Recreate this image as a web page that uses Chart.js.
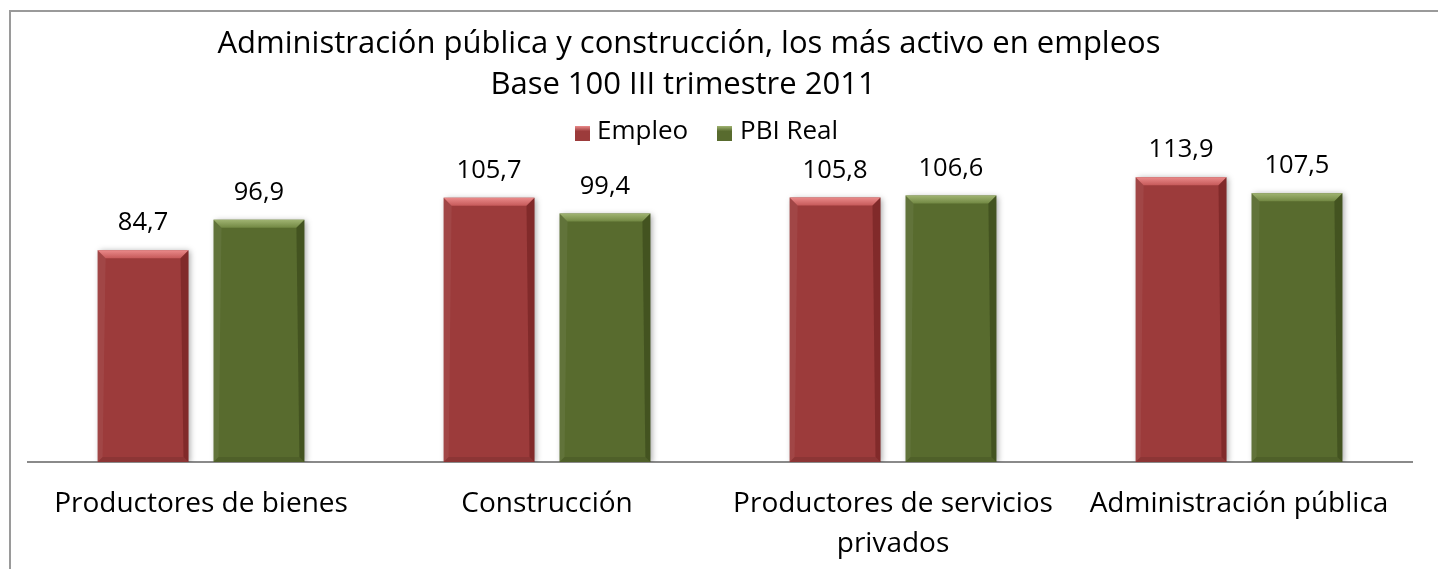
<!DOCTYPE html>
<html>
<head>
<meta charset="utf-8">
<script src="https://cdn.jsdelivr.net/npm/chart.js@4.4.1/dist/chart.umd.min.js"></script>
<style>
  html, body { margin: 0; padding: 0; background: #ffffff; overflow: hidden; }
  #c { display: block; }
</style>
</head>
<body>
<canvas id="c" width="1438" height="569"></canvas>
<script>
// ---- data ----
const categories = ['Productores de bienes', 'Construcción', ['Productores de servicios', 'privados'], 'Administración pública'];
const seriesNames = ['Empleo', 'PBI Real'];
const empleo = [84.7, 105.7, 105.8, 113.9];
const pbiReal = [96.9, 99.4, 106.6, 107.5];
const titleLines = ['Administración pública y construcción, los más activo en empleos', 'Base 100 III trimestre 2011'];

const FONT = '"Open Sans", "DejaVu Sans", sans-serif';
const palette = [
  { base: '#9c3b3b', light1: '#ea8a8a', light2: '#c65a5a', dark: 'rgba(60,0,0,0.28)' },
  { base: '#586b2e', light1: '#a0b472', light2: '#728843', dark: 'rgba(20,30,0,0.30)' }
];

function fmt(v) { return v.toFixed(1).replace('.', ','); }

const framePlugin = {
  id: 'frame',
  beforeDraw(chart) {
    const ctx = chart.ctx;
    ctx.save();
    ctx.fillStyle = '#ffffff';
    ctx.fillRect(0, 0, chart.width, chart.height);
    ctx.strokeStyle = '#9a9a9a';
    ctx.lineWidth = 2;
    ctx.beginPath();
    ctx.moveTo(10, chart.height + 5);
    ctx.lineTo(10, 11);
    ctx.lineTo(chart.width + 5, 11);
    ctx.stroke();
    ctx.restore();
  }
};

const shadowPlugin = {
  id: 'barShadow',
  beforeDatasetDraw(chart) {
    const ctx = chart.ctx;
    ctx.save();
    ctx.shadowColor = 'rgba(0,0,0,0.35)';
    ctx.shadowBlur = 6;
    ctx.shadowOffsetX = 2;
    ctx.shadowOffsetY = 1;
  },
  afterDatasetDraw(chart) { chart.ctx.restore(); }
};

const bevelPlugin = {
  id: 'bevel',
  afterDatasetsDraw(chart) {
    const ctx = chart.ctx;
    chart.data.datasets.forEach((ds, di) => {
      const meta = chart.getDatasetMeta(di);
      const p = palette[di];
      meta.data.forEach((bar, i) => {
        const w = bar.width;
        const L = bar.x - w / 2, R = bar.x + w / 2, T = bar.y, B = bar.base;
        const b = 8, s = 5;
        ctx.save();
        const g = ctx.createLinearGradient(0, T, 0, T + b);
        g.addColorStop(0, p.light1);
        g.addColorStop(1, p.light2);
        ctx.fillStyle = g;
        ctx.beginPath();
        ctx.moveTo(L, T); ctx.lineTo(R, T); ctx.lineTo(R - b, T + b); ctx.lineTo(L + b, T + b); ctx.closePath();
        ctx.fill();
        ctx.fillStyle = 'rgba(255,255,255,0.06)';
        ctx.beginPath();
        ctx.moveTo(L, T); ctx.lineTo(L + b, T + b); ctx.lineTo(L + s, B - s); ctx.lineTo(L, B); ctx.closePath();
        ctx.fill();
        ctx.fillStyle = p.dark;
        ctx.beginPath();
        ctx.moveTo(R, T); ctx.lineTo(R - b, T + b); ctx.lineTo(R - s, B - s); ctx.lineTo(R, B); ctx.closePath();
        ctx.fill();
        ctx.fillStyle = 'rgba(0,0,0,0.10)';
        ctx.beginPath();
        ctx.moveTo(L, B); ctx.lineTo(L + s, B - s); ctx.lineTo(R - s, B - s); ctx.lineTo(R, B); ctx.closePath();
        ctx.fill();
        ctx.restore();
        ctx.save();
        ctx.fillStyle = '#000';
        ctx.font = '25.5px ' + FONT;
        ctx.textAlign = 'center';
        ctx.textBaseline = 'alphabetic';
        ctx.fillText(fmt(ds.data[i]), bar.x, T - 20);
        ctx.restore();
      });
    });
  }
};

const headerPlugin = {
  id: 'header',
  afterDraw(chart) {
    const ctx = chart.ctx;
    ctx.save();
    ctx.fillStyle = '#000';
    ctx.textBaseline = 'alphabetic';
    ctx.textAlign = 'center';
    ctx.font = '31px ' + FONT;
    ctx.fillText(titleLines[0], 689, 53);
    ctx.fillText(titleLines[1], 683, 94);
    ctx.textAlign = 'left';
    ctx.font = '26px ' + FONT;
    const items = [{ x: 575, tx: 597 }, { x: 717, tx: 740 }];
    items.forEach((it, i) => {
      const p = palette[i];
      const g = ctx.createLinearGradient(0, 126, 0, 141);
      g.addColorStop(0, p.light1);
      g.addColorStop(0.35, p.base);
      g.addColorStop(1, p.base);
      ctx.fillStyle = g;
      ctx.fillRect(it.x, 126, 15, 15);
      ctx.fillStyle = '#000';
      ctx.fillText(seriesNames[i], it.tx, 139);
    });
    ctx.restore();
  }
};

new Chart(document.getElementById('c'), {
  type: 'bar',
  data: {
    labels: categories,
    datasets: [
      { label: seriesNames[0], data: empleo, backgroundColor: palette[0].base, borderWidth: 0 },
      { label: seriesNames[1], data: pbiReal, backgroundColor: palette[1].base, borderWidth: 0 }
    ]
  },
  options: {
    responsive: false,
    animation: false,
    maintainAspectRatio: false,
    categoryPercentage: 0.67,
    barPercentage: 0.784,
    layout: { padding: { left: 28, right: 26, top: 162, bottom: 0 } },
    plugins: {
      legend: { display: false },
      title: { display: false },
      tooltip: { enabled: false }
    },
    scales: {
      y: { display: false, min: 0, max: 120 },
      x: {
        grid: { display: false, drawTicks: false },
        border: { display: true, color: '#8a8a8a', width: 2 },
        ticks: {
          color: '#000',
          font: { family: FONT, size: 28, lineHeight: 1.43 },
          padding: 22,
          maxRotation: 0,
          autoSkip: false
        },
        afterFit(scale) { scale.height = 107; }
      }
    }
  },
  plugins: [framePlugin, shadowPlugin, bevelPlugin, headerPlugin]
});
</script>
</body>
</html>
